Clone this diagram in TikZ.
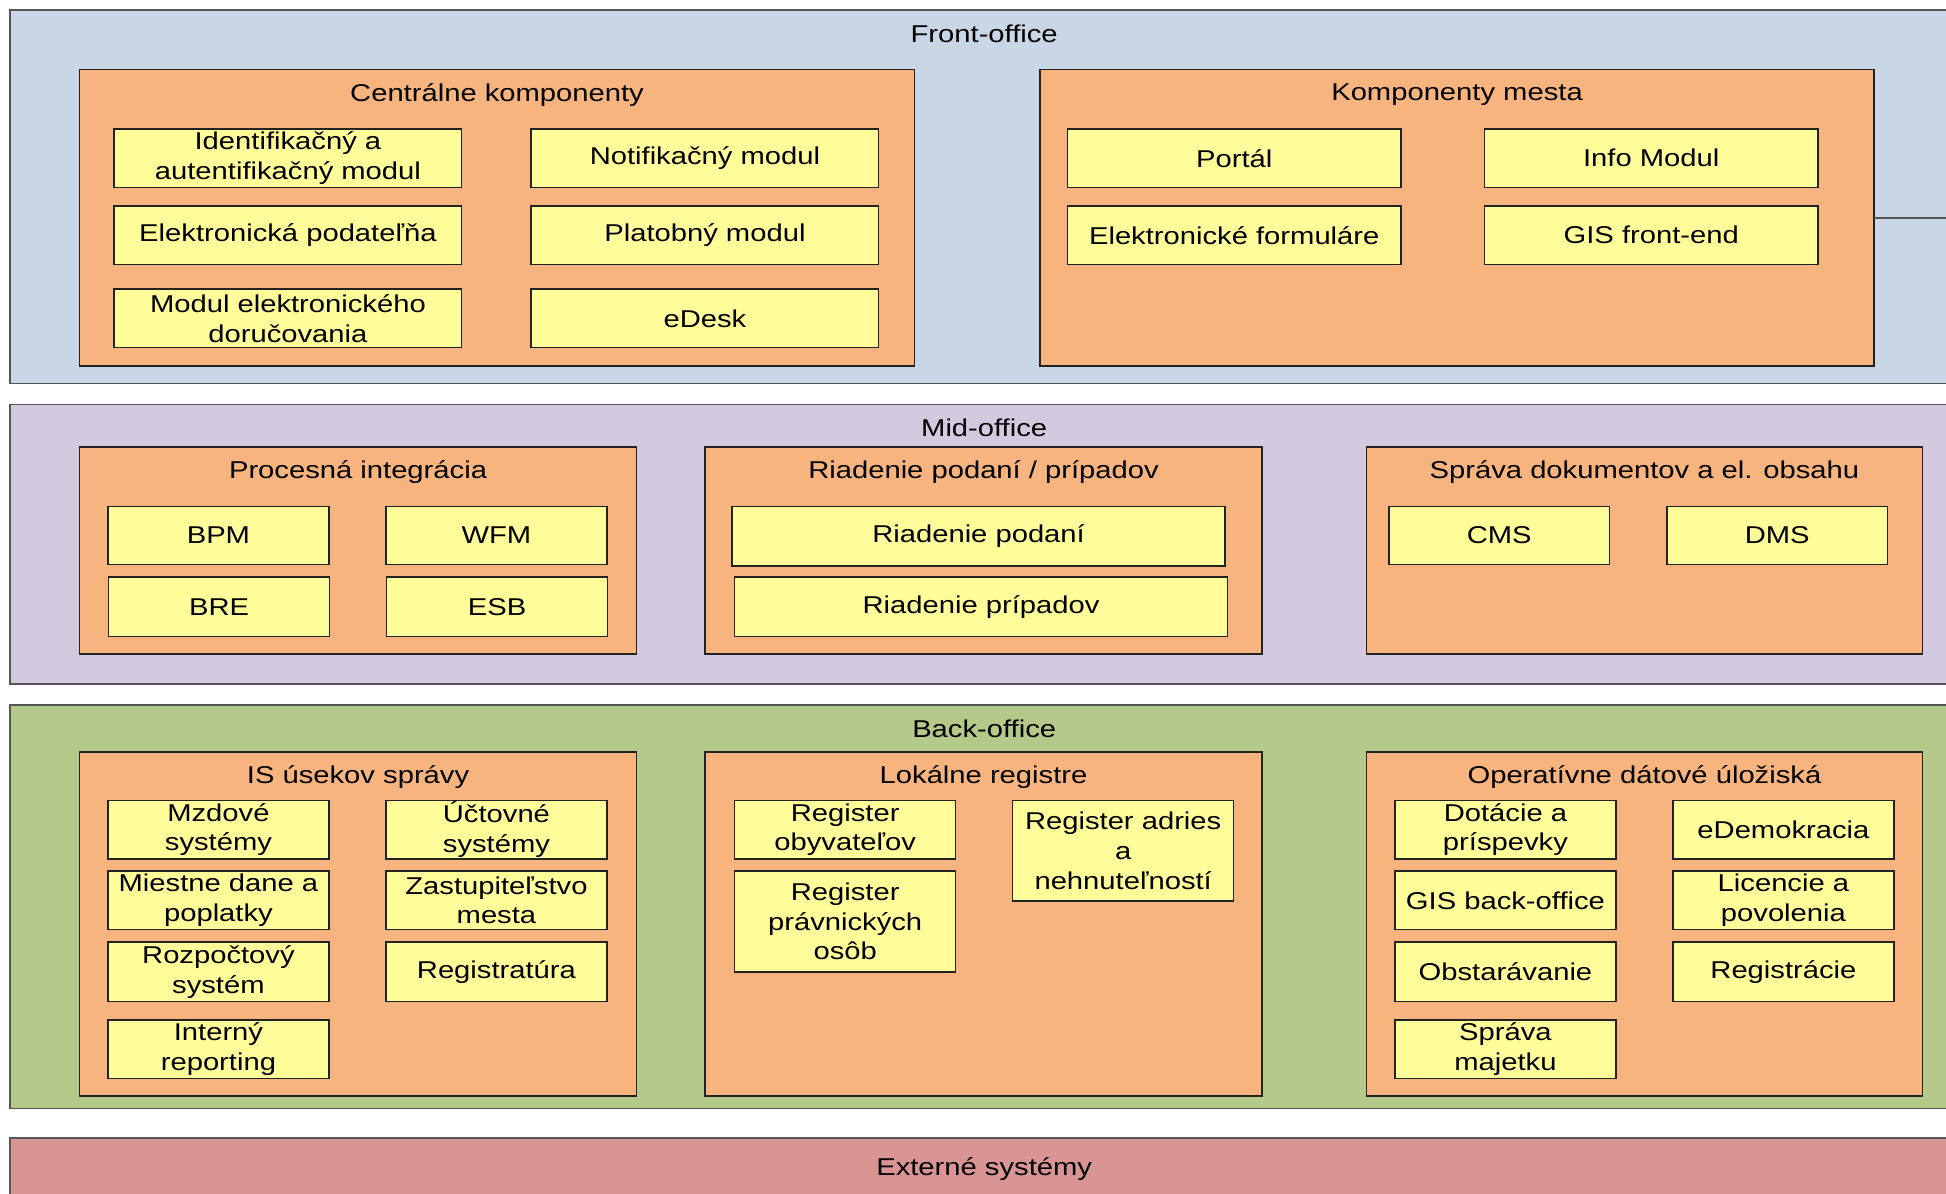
\documentclass[tikz,border=0pt]{standalone}
\usepackage{fontspec}
\setmainfont[FakeStretch=1.2]{Liberation Sans}
\usepackage{tikz}
\usetikzlibrary{calc}

\definecolor{frontc}{HTML}{C9D6E5}
\definecolor{midc}{HTML}{D3CADF}
\definecolor{backc}{HTML}{B5C98B}
\definecolor{extc}{HTML}{D99593}
\definecolor{oranz}{HTML}{F7B47E}
\definecolor{zlta}{HTML}{FFFD99}
\definecolor{ramline}{HTML}{222222}
\definecolor{pasline}{HTML}{555555}

\begin{document}
\begin{tikzpicture}[x=0.5pt, y=-0.5pt,
  every node/.style={font=\fontsize{9.8}{12}\selectfont, inner sep=0pt, outer sep=0pt, align=center},
  wh/.style 2 args={minimum width={#1*0.5pt}, minimum height={#2*0.5pt}},
  pas/.style={draw=pasline, line width=0.6pt},
  skupina/.style={draw=ramline, fill=oranz, line width=0.6pt},
  modul/.style={draw=ramline, fill=zlta, line width=0.6pt, wh={178}{47}}]

  % Fix the page size
  \useasboundingbox (0,0) rectangle (1568,962);
  \clip (0,0) rectangle (1568,962);

  % Draw the four layers
  \node[pas, fill=frontc, wh={1570}{301}] (front) at (793,158.5) {};
  \node[pas, fill=midc, wh={1570}{225}] (mid) at (793,438.5) {};
  \node[pas, fill=backc, wh={1570}{325}] (back) at (793,730.5) {};
  \node[pas, fill=extc, wh={1570}{93}] (ext) at (793,963.5) {};
  \node (front-t) at ($(front.north)+(0,19)$) {Front-office};
  \node (mid-t) at ($(mid.north)+(0,19)$) {Mid-office};
  \node (back-t) at ($(back.north)+(0,19)$) {Back-office};
  \node (ext-t) at ($(ext.north)+(0,25)$) {Externé systémy};

  % Front-office
  \node[skupina, wh={673}{239}] (cent) at (400.5,175.5) {};
  \node (cent-t) at ($(cent.north)+(0,20.5)$) {Centrálne komponenty};
  \node[modul, wh={280}{47}] (idm) at (232,127.5) {Identifikačný a\\autentifikačný modul};
  \node[modul, wh={280}{47}] (notif) at (568,127.5) {Notifikačný modul};
  \node[modul, wh={280}{47}] (epod) at (232,189.5) {Elektronická podateľňa};
  \node[modul, wh={280}{47}] (plat) at (568,189.5) {Platobný modul};
  \node[modul, wh={280}{47}] (dor) at (232,256.5) {Modul elektronického\\doručovania};
  \node[modul, wh={280}{47}] (edesk) at (568,256.5) {eDesk};

  \node[skupina, wh={672}{239}] (kmesta) at (1174,175.5) {};
  \node (kmesta-t) at ($(kmesta.north)+(0,20.5)$) {Komponenty mesta};
  \node[modul, wh={269}{47}] (portal) at (994.5,127.5) {Portál};
  \node[modul, wh={269}{47}] (info) at (1330.5,127.5) {Info Modul};
  \node[modul, wh={269}{47}] (eform) at (994.5,189.5) {Elektronické formuláre};
  \node[modul, wh={269}{47}] (gisfe) at (1330.5,189.5) {GIS front-end};

  % Line leaving the picture
  \coordinate (vpravo) at (1600,175.5);
  \draw[draw=pasline, line width=0.6pt] (kmesta.east) -- (vpravo);

  % Mid-office
  \node[skupina, wh={449}{167}] (proc) at (288.5,443.5) {};
  \node (proc-t) at ($(proc.north)+(0,20.5)$) {Procesná integrácia};
  \node[modul] (bpm) at (176,431.5) {BPM};
  \node[modul] (wfm) at (400,431.5) {WFM};
  \node[modul, wh={178}{48}] (bre) at (176.5,489) {BRE};
  \node[modul, wh={178}{48}] (esb) at (400.5,489) {ESB};

  \node[skupina, wh={449}{167}] (riad) at (792.5,443.5) {};
  \node (riad-t) at ($(riad.north)+(0,20.5)$) {Riadenie podaní / prípadov};
  \node[modul, wh={397}{48}] (rpod) at (788.5,432) {Riadenie podaní};
  \node[modul, wh={397}{48}] (rpri) at (790.5,489) {Riadenie prípadov};

  \node[skupina, wh={448}{167}] (sprava) at (1325,443.5) {};
  \node (sprava-t) at ($(sprava.north)+(0,20.5)$) {Správa dokumentov a el. obsahu};
  \node[modul] (cms) at (1208,431.5) {CMS};
  \node[modul] (dms) at (1432,431.5) {DMS};

  % Back-office
  \node[skupina, wh={449}{277}] (isu) at (288.5,744.5) {};
  \node (isu-t) at ($(isu.north)+(0,20.5)$) {IS úsekov správy};
  \node[modul] (mzd) at (176,668.5) {Mzdové\\systémy};
  \node[modul] (uct) at (400,668.5) {Účtovné\\systémy};
  \node[modul] (dane) at (176,725.5) {Miestne dane a\\poplatky};
  \node[modul] (zast) at (400,725.5) {Zastupiteľstvo\\mesta};
  \node[modul, wh={178}{48}] (rozp) at (176,783) {Rozpočtový\\systém};
  \node[modul, wh={178}{48}] (regtur) at (400,783) {Registratúra};
  \node[modul] (intrep) at (176,845.5) {Interný\\reporting};

  \node[skupina, wh={449}{277}] (lok) at (792.5,744.5) {};
  \node (lok-t) at ($(lok.north)+(0,20.5)$) {Lokálne registre};
  \node[modul] (robyv) at (681,668.5) {Register\\obyvateľov};
  \node[modul, wh={178}{81}] (rpo) at (681,742.5) {Register\\právnických\\osôb};
  \node[modul, wh={178}{81}] (radr) at (905,685.5) {Register adries\\a\\nehnuteľností};

  \node[skupina, wh={448}{277}] (oper) at (1325,744.5) {};
  \node (oper-t) at ($(oper.north)+(0,20.5)$) {Operatívne dátové úložiská};
  \node[modul] (dot) at (1213,668.5) {Dotácie a\\príspevky};
  \node[modul] (edem) at (1437,668.5) {eDemokracia};
  \node[modul] (gisbo) at (1213,725.5) {GIS back-office};
  \node[modul] (lic) at (1437,725.5) {Licencie a\\povolenia};
  \node[modul, wh={178}{48}] (obst) at (1213,783) {Obstarávanie};
  \node[modul, wh={178}{48}] (regc) at (1437,783) {Registrácie};
  \node[modul] (majet) at (1213,845.5) {Správa\\majetku};

\end{tikzpicture}
\end{document}
